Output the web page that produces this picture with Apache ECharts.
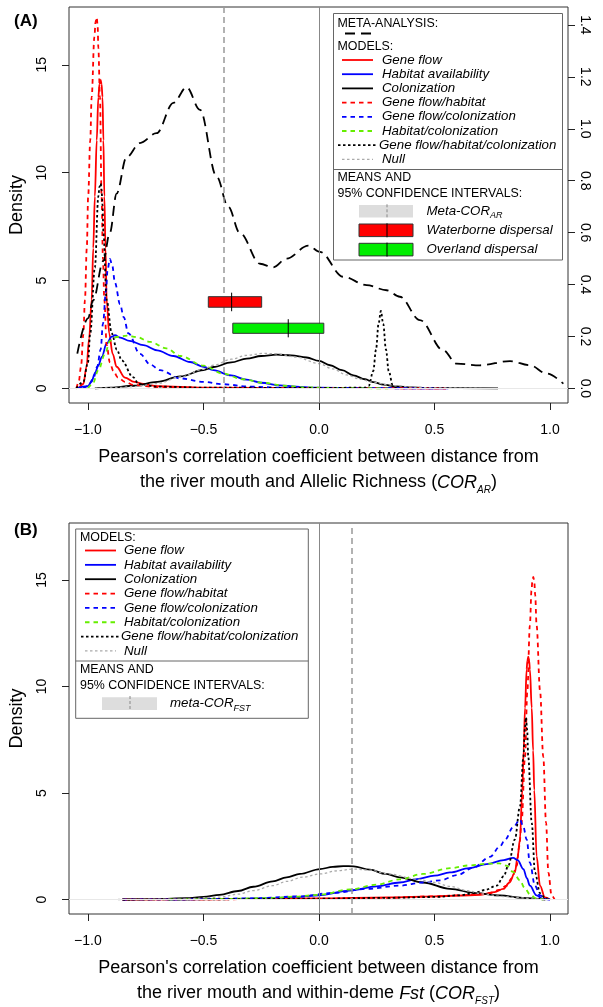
<!DOCTYPE html>
<html>
<head>
<meta charset="utf-8">
<script src="https://cdn.jsdelivr.net/npm/echarts@6.0.0/dist/echarts.min.js"></script>
<style>
html, body { margin: 0; padding: 0; background: #fff; }
#chart { width: 603px; height: 1007px; }
</style>
</head>
<body>
<div id="chart"></div>
<script>
const FONT = '"Liberation Sans", Arial, Helvetica, sans-serif';

// 刻度
const xTicks = [-1, -0.5, 0, 0.5, 1];
const yTicks = [0, 5, 10, 15];
const metaTicks = [0, 0.2, 0.4, 0.6, 0.8, 1.0, 1.2, 1.4];

const modelNames = ['Gene flow', 'Habitat availability', 'Colonization', 'Gene flow/habitat',
	'Gene flow/colonization', 'Habitat/colonization', 'Gene flow/habitat/colonization', 'Null'];
const ciNamesA = ['Meta-COR', 'Waterborne dispersal', 'Overland dispersal'];

// ---- panel A : density curves [x, density]
const aGeneFlow = [[-1.04,0],[-1.02,0.2],[-1.006,1.0],[-0.995,2.3],[-0.984,4.1],[-0.977,6.5],[-0.97,8.9],[-0.962,11.5],[-0.955,13.5],[-0.95,14.1],[-0.945,14.3],[-0.941,14.1],[-0.937,13.5],[-0.933,11.5],[-0.929,8.9],[-0.924,6.5],[-0.919,4.1],[-0.908,2.55],[-0.893,1.6],[-0.876,1.0],[-0.84,0.5],[-0.8,0.3],[-0.76,0.2],[-0.7,0.1],[-0.5,0.03],[0,0.01],[0.55,0]];
const aHabitat = [[-1.05,0],[-1.0,0.1],[-0.985,0.3],[-0.97,0.69],[-0.955,1.05],[-0.94,1.46],[-0.919,2.08],[-0.897,2.4],[-0.883,2.46],[-0.86,2.35],[-0.82,2.2],[-0.76,2.0],[-0.7,1.76],[-0.63,1.5],[-0.558,1.22],[-0.5,1.0],[-0.457,0.84],[-0.38,0.6],[-0.313,0.4],[-0.25,0.26],[-0.169,0.14],[-0.1,0.08],[-0.02,0.03],[0.2,0.01],[0.56,0]];
const aColonization = [[-0.97,0],[-0.9,0.03],[-0.8,0.12],[-0.7,0.3],[-0.6,0.55],[-0.5,0.85],[-0.457,0.99],[-0.38,1.2],[-0.313,1.38],[-0.25,1.5],[-0.183,1.56],[-0.12,1.53],[-0.053,1.43],[0.0,1.27],[0.048,1.07],[0.1,0.84],[0.149,0.6],[0.2,0.42],[0.235,0.29],[0.28,0.17],[0.336,0.09],[0.4,0.04],[0.5,0.01],[0.775,0]];
const aGfHabitat = [[-1.05,0],[-1.04,0.3],[-1.03,1.0],[-1.02,2.5],[-1.013,4.1],[-1.005,6.5],[-0.999,8.9],[-0.99,11.5],[-0.984,13.5],[-0.972,16.3],[-0.967,17.0],[-0.962,17.2],[-0.958,16.8],[-0.955,15.8],[-0.948,13.5],[-0.941,8.9],[-0.935,6.0],[-0.929,4.1],[-0.919,2.0],[-0.905,1.2],[-0.89,0.8],[-0.87,0.5],[-0.84,0.3],[-0.8,0.15],[-0.7,0.06],[-0.5,0.02],[0,0.01],[0.55,0]];
const aGfColonization = [[-1.02,0],[-1.0,0.1],[-0.977,0.45],[-0.96,1.0],[-0.945,1.8],[-0.935,3.0],[-0.922,4.5],[-0.915,5.5],[-0.905,6.0],[-0.895,5.7],[-0.883,4.9],[-0.861,3.9],[-0.845,3.3],[-0.825,2.55],[-0.775,1.6],[-0.73,1.1],[-0.688,0.84],[-0.6,0.46],[-0.5,0.3],[-0.415,0.19],[-0.3,0.08],[-0.17,0.03],[0,0.01],[0.5,0]];
const aHabColonization = [[-1.0,0],[-0.98,0.2],[-0.955,0.84],[-0.926,1.6],[-0.905,2.2],[-0.876,2.38],[-0.83,2.44],[-0.79,2.38],[-0.73,2.15],[-0.66,1.85],[-0.6,1.5],[-0.5,1.05],[-0.414,0.68],[-0.33,0.42],[-0.241,0.26],[-0.15,0.12],[-0.05,0.04],[0.1,0.01],[0.3,0]];
const aGfHabCol = [[-1.05,0],[-1.02,0.3],[-1.0,1.2],[-0.99,2.55],[-0.97,5.6],[-0.955,8.9],[-0.95,9.35],[-0.945,9.5],[-0.941,9.2],[-0.937,8.5],[-0.933,7.2],[-0.919,4.1],[-0.897,2.55],[-0.875,1.8],[-0.854,1.3],[-0.805,0.52],[-0.78,0.2],[-0.7,0.08],[-0.5,0.03],[0,0.02],[0.2,0.03],[0.215,0.1],[0.235,0.8],[0.247,1.8],[0.258,3.0],[0.268,3.59],[0.278,3.0],[0.29,1.8],[0.302,0.8],[0.32,0.1],[0.34,0]];
const aNull = [[-0.97,0],[-0.9,0.02],[-0.8,0.08],[-0.7,0.22],[-0.6,0.53],[-0.5,0.88],[-0.457,1.07],[-0.38,1.35],[-0.313,1.53],[-0.24,1.62],[-0.18,1.6],[-0.1,1.45],[0.0,1.15],[0.06,0.9],[0.12,0.62],[0.18,0.42],[0.235,0.28],[0.3,0.16],[0.336,0.12],[0.4,0.06],[0.5,0.02],[0.71,0]];
// meta-analysis (right axis)
const aMeta = [[-1.046,0.134],[-1.0,0.27],[-0.977,0.34],[-0.934,0.49],[-0.905,0.6],[-0.876,0.75],[-0.833,0.89],[-0.775,0.945],[-0.703,0.983],[-0.63,1.1],[-0.573,1.16],[-0.515,1.073],[-0.443,0.816],[-0.393,0.70],[-0.342,0.598],[-0.255,0.48],[-0.198,0.466],[-0.14,0.50],[-0.046,0.55],[0.004,0.526],[0.105,0.43],[0.206,0.398],[0.293,0.378],[0.35,0.353],[0.437,0.263],[0.538,0.147],[0.596,0.095],[0.697,0.089],[0.827,0.105],[0.913,0.089],[0.986,0.057],[1.058,0.018]];
const aMetaMean = -0.408;
// 置信区间 [low, mean, high, densLow, densHigh]
const aWaterborne = [-0.479, -0.378, -0.248, 3.76, 4.25];
const aOverland = [-0.373, -0.133, 0.021, 2.55, 3.02];

// ---- panel B
const bGeneFlow = [[-0.85,0],[-0.5,0.01],[0,0.05],[0.3,0.1],[0.5,0.15],[0.6,0.18],[0.7,0.22],[0.76,0.35],[0.798,0.5],[0.825,0.8],[0.848,1.27],[0.86,2.0],[0.87,2.82],[0.88,5.14],[0.886,7.0],[0.892,9.0],[0.899,10.8],[0.902,11.2],[0.906,11.41],[0.91,11.2],[0.913,10.8],[0.921,9.0],[0.927,7.0],[0.932,5.14],[0.942,2.04],[0.957,0.65],[0.978,0.1],[1.0,0]];
const bHabitat = [[-0.65,0],[-0.4,0.02],[-0.21,0.06],[-0.1,0.12],[0.0,0.2],[0.134,0.42],[0.25,0.62],[0.35,0.8],[0.423,0.96],[0.5,1.12],[0.567,1.27],[0.65,1.47],[0.726,1.66],[0.8,1.85],[0.841,1.96],[0.86,1.85],[0.885,1.43],[0.9,1.0],[0.913,0.65],[0.942,0.19],[0.97,0.03],[1.0,0]];
const bColonization = [[-0.85,0],[-0.7,0.02],[-0.575,0.06],[-0.5,0.12],[-0.43,0.22],[-0.35,0.4],[-0.284,0.6],[-0.2,0.85],[-0.14,1.04],[-0.082,1.2],[0.004,1.43],[0.06,1.53],[0.105,1.57],[0.15,1.56],[0.22,1.4],[0.29,1.2],[0.35,1.04],[0.45,0.8],[0.567,0.5],[0.68,0.3],[0.784,0.19],[0.88,0.08],[0.98,0]];
const bGfHabitat = [[-0.85,0],[-0.5,0.01],[0,0.03],[0.3,0.08],[0.5,0.15],[0.6,0.2],[0.7,0.25],[0.74,0.3],[0.78,0.45],[0.812,0.65],[0.835,1.0],[0.856,1.58],[0.867,2.5],[0.877,3.6],[0.892,6.7],[0.902,9.8],[0.913,12.88],[0.92,14.5],[0.924,15.0],[0.928,15.15],[0.932,14.95],[0.936,14.3],[0.942,12.88],[0.957,9.8],[0.971,6.7],[0.983,3.6],[0.993,1.27],[1.007,0.19],[1.02,0]];
const bGfColonization = [[-0.85,0],[-0.6,0.01],[-0.3,0.05],[-0.082,0.15],[0.062,0.31],[0.206,0.5],[0.35,0.65],[0.45,0.8],[0.524,0.9],[0.6,1.15],[0.668,1.5],[0.74,2.0],[0.784,2.5],[0.805,2.8],[0.841,3.4],[0.87,3.75],[0.885,3.4],[0.899,2.82],[0.913,1.73],[0.935,0.65],[0.957,0.19],[0.98,0.03],[1.0,0]];
const bHabColonization = [[-0.65,0],[-0.4,0.03],[-0.21,0.07],[-0.1,0.14],[0.0,0.22],[0.134,0.47],[0.25,0.7],[0.35,0.95],[0.45,1.2],[0.567,1.47],[0.65,1.6],[0.726,1.68],[0.78,1.7],[0.812,1.59],[0.84,1.3],[0.87,0.9],[0.89,0.55],[0.913,0.25],[0.94,0.05],[0.97,0]];
const bGfHabCol = [[-0.85,0],[-0.5,0.01],[0,0.04],[0.3,0.08],[0.5,0.12],[0.61,0.2],[0.67,0.3],[0.72,0.45],[0.769,0.65],[0.8,1.1],[0.82,1.6],[0.848,2.82],[0.87,4.37],[0.885,6.69],[0.891,8.0],[0.896,8.55],[0.901,8.0],[0.906,6.69],[0.921,3.6],[0.935,1.27],[0.957,0.3],[0.98,0.05],[1.0,0]];
const bNull = [[-0.87,0],[-0.6,0.02],[-0.43,0.11],[-0.35,0.25],[-0.284,0.42],[-0.2,0.65],[-0.14,0.85],[-0.07,1.05],[0.004,1.2],[0.08,1.35],[0.15,1.43],[0.22,1.38],[0.3,1.2],[0.42,0.96],[0.5,0.8],[0.567,0.62],[0.64,0.42],[0.71,0.26],[0.8,0.14],[0.856,0.1],[0.93,0.03],[1.0,0]];
const bMetaMean = 0.136;

// 线型
const modelStyles = [
	{ color: '#ff0000', type: 'solid' },
	{ color: '#0000ff', type: 'solid' },
	{ color: '#000000', type: 'solid' },
	{ color: '#ff0000', type: [4.5, 4] },
	{ color: '#0000ff', type: [4.5, 4] },
	{ color: '#66ee00', type: [4.5, 4] },
	{ color: '#000000', type: [2.5, 2.5] },
	{ color: '#aaaaaa', type: [2.5, 2.5], width: 1.3 }
];
const metaStyle = { color: '#000', width: 1.8, type: [10, 6] };

function fmtX(v) {
	return (v < 0 ? '\u2212' : '') + Math.abs(v).toFixed(1);
}

function modelSeries(data, i, xi, yi) {
	const s = modelStyles[i];
	return {
		type: 'line', xAxisIndex: xi, yAxisIndex: yi, data: data,
		showSymbol: false, smooth: 0.35, smoothMonotone: 'x',
		silent: true, animation: false, z: 3,
		lineStyle: { color: s.color, width: s.width || 1.8, type: s.type }
	};
}

function refLines(mean) {
	return {
		symbol: ['none', 'none'], silent: true, animation: false, label: { show: false },
		data: [
			{ yAxis: 0, lineStyle: { color: '#e8e8e8', width: 1, type: 'solid' } },
			{ xAxis: 0, lineStyle: { color: '#888', width: 1, type: 'solid' } },
			{ xAxis: mean, lineStyle: { color: '#999', width: 1.5, type: [6, 4] } }
		]
	};
}

function xAxisFor(gi, nameText) {
	return {
		gridIndex: gi, type: 'value', min: -1.082, max: 1.078, position: 'bottom',
		axisLine: { show: false, onZero: false },
		axisTick: { show: true, customValues: xTicks, length: 7, lineStyle: { color: '#222' } },
		axisLabel: { customValues: xTicks, formatter: fmtX, fontSize: 14, color: '#000', margin: 20, fontFamily: FONT },
		splitLine: { show: false },
		name: nameText, nameLocation: 'middle', nameGap: 42,
		nameTextStyle: {
			fontSize: 18, color: '#000', fontFamily: FONT, lineHeight: 25,
			rich: {
				i: { fontSize: 18, fontStyle: 'italic', fontFamily: FONT, color: '#000', lineHeight: 25 },
				s: { fontSize: 10, fontStyle: 'italic', fontFamily: FONT, color: '#000', verticalAlign: 'bottom', lineHeight: 25 }
			}
		}
	};
}

function yAxisFor(gi) {
	return {
		gridIndex: gi, type: 'value', min: -0.68, max: 17.68, position: 'left',
		axisLine: { show: false, onZero: false },
		axisTick: { show: true, customValues: yTicks, length: 7, lineStyle: { color: '#222' } },
		axisLabel: { customValues: yTicks, rotate: 90, fontSize: 14, color: '#000', margin: 20, fontFamily: FONT },
		splitLine: { show: false },
		name: 'Density', nameLocation: 'middle', nameGap: 43, nameRotate: 90,
		nameTextStyle: { fontSize: 18, color: '#000', fontFamily: FONT }
	};
}

// ---- 图例（手工绘制）
function gText(x, y, text, italic, size) {
	return {
		type: 'text', x: x, y: y, z: 100, silent: true,
		style: {
			text: text, fill: '#000', fontFamily: FONT, fontSize: size || 12.4,
			fontStyle: italic ? 'italic' : 'normal', verticalAlign: 'middle', align: 'left'
		}
	};
}
function gSubText(x, y, main, sub) {
	return {
		type: 'text', x: x, y: y, z: 100, silent: true,
		style: {
			text: '{m|' + main + '}{s|' + sub + '}', fill: '#000', verticalAlign: 'middle', align: 'left',
			rich: {
				m: { fontFamily: FONT, fontSize: 13.3, fontStyle: 'italic', lineHeight: 18 },
				s: { fontFamily: FONT, fontSize: 9, fontStyle: 'italic', lineHeight: 18, verticalAlign: 'bottom' }
			}
		}
	};
}
function gLine(x1, y1, x2, y2, color, width, dash) {
	return {
		type: 'line', z: 100, silent: true,
		shape: { x1: x1, y1: y1, x2: x2, y2: y2 },
		style: { stroke: color, lineWidth: width, lineDash: dash || null }
	};
}
function gRect(x, y, w, h, fill, stroke) {
	return {
		type: 'rect', z: 99, silent: true,
		shape: { x: x, y: y, width: w, height: h },
		style: { fill: fill, stroke: stroke || null, lineWidth: stroke ? 1 : 0 }
	};
}

function modelRows(els, segX1, segX2, textX, y0, step) {
	modelNames.forEach((n, i) => {
		const s = modelStyles[i];
		const y = y0 + step * i;
		const dash = s.type === 'solid' ? null : s.type;
		const wide = i === 6 ? 4 : 0;
		els.push(gLine(segX1 - wide, y, segX2 + wide, y, s.color, s.width || 1.8, dash));
		els.push(gText(textX - (i === 6 ? 3 : 0), y, n, true, 13.3));
	});
}

function legendA() {
	const els = [];
	els.push(gRect(333.5, 13.5, 229, 246.5, '#fff', '#666'));
	els.push(gLine(333.5, 169.5, 562.5, 169.5, '#666', 1));
	els.push(gText(337.5, 23.5, 'META-ANALYSIS:'));
	els.push(gLine(345, 33.5, 373, 33.5, metaStyle.color, metaStyle.width, metaStyle.type));
	els.push(gText(337.5, 47, 'MODELS:'));
	modelRows(els, 342, 373, 382, 60, 14.2);
	els.push(gText(337.5, 178, 'MEANS AND'));
	els.push(gText(337.5, 193.5, '95% CONFIDENCE INTERVALS:'));
	const fills = ['#dddddd', '#ff0000', '#00ee00'];
	const ys = [211.3, 230.3, 249.6];
	ys.forEach((y, i) => {
		els.push(gRect(359, y - 6.3, 54, 12.6, fills[i], i ? '#333' : null));
		els.push(gLine(387, y - 7, 387, y + 7, i ? '#000' : '#888', 1, i ? null : [3, 2]));
		if (i === 0) els.push(gSubText(426.5, y, ciNamesA[0], 'AR'));
		else els.push(gText(426.5, y, ciNamesA[i], true, 13.3));
	});
	els.push(gText(14, 21, '(A)', false, 17));
	els[els.length - 1].style.fontWeight = 'bold';
	return els;
}

function legendB() {
	const els = [];
	els.push(gRect(75.7, 529, 232.6, 189.3, '#fff', '#666'));
	els.push(gLine(75.7, 661, 308.3, 661, '#666', 1));
	els.push(gText(80, 537.5, 'MODELS:'));
	modelRows(els, 85, 116, 124, 550.5, 14.35);
	els.push(gText(80, 670, 'MEANS AND'));
	els.push(gText(80, 685.5, '95% CONFIDENCE INTERVALS:'));
	els.push(gRect(102, 697.3, 55, 12.7, '#dddddd', null));
	els.push(gLine(130, 696, 130, 711, '#888', 1, [3, 2]));
	els.push(gSubText(170, 703.5, 'meta-COR', 'FST'));
	els.push(gText(14, 530, '(B)', false, 17));
	els[els.length - 1].style.fontWeight = 'bold';
	return els;
}

function ciRender(params, api) {
	const p0 = api.coord([api.value(0), api.value(4)]);
	const p1 = api.coord([api.value(2), api.value(3)]);
	const pm = api.coord([api.value(1), api.value(3)]);
	const color = params.dataIndex === 0 ? '#ff0000' : '#00ee00';
	return {
		type: 'group',
		children: [
			{ type: 'rect', shape: { x: p0[0], y: p0[1], width: p1[0] - p0[0], height: p1[1] - p0[1] },
				style: { fill: color, stroke: '#333', lineWidth: 1 } },
			{ type: 'line', shape: { x1: pm[0], y1: p0[1] - 4, x2: pm[0], y2: p1[1] + 4 },
				style: { stroke: '#000', lineWidth: 1 } }
		]
	};
}

const aSets = [aGeneFlow, aHabitat, aColonization, aGfHabitat, aGfColonization, aHabColonization, aGfHabCol, aNull];
const bSets = [bGeneFlow, bHabitat, bColonization, bGfHabitat, bGfColonization, bHabColonization, bGfHabCol, bNull];

const series = [];
aSets.forEach((d, i) => series.push(modelSeries(d, i, 0, 0)));
series[0].markLine = refLines(aMetaMean);
series.push({
	type: 'line', xAxisIndex: 0, yAxisIndex: 1, data: aMeta, showSymbol: false,
	smooth: 0.35, smoothMonotone: 'x', silent: true, animation: false, z: 4,
	lineStyle: { color: metaStyle.color, width: metaStyle.width, type: metaStyle.type }
});
series.push({
	type: 'custom', xAxisIndex: 0, yAxisIndex: 0, silent: true, animation: false, z: 5,
	data: [aWaterborne, aOverland],
	dimensions: ['low', 'mean', 'high', 'yl', 'yh'],
	encode: { x: [0, 1, 2], y: [3, 4] },
	renderItem: ciRender
});
const bStart = series.length;
bSets.forEach((d, i) => series.push(modelSeries(d, i, 1, 2)));
series[bStart].markLine = refLines(bMetaMean);

const option = {
	backgroundColor: '#fff',
	animation: false,
	grid: [
		{ left: 69, top: 7, width: 499, height: 396, show: true, borderColor: '#333', borderWidth: 1, backgroundColor: 'transparent' },
		{ left: 69, top: 523, width: 499, height: 396, show: true, borderColor: '#333', borderWidth: 1, backgroundColor: 'transparent' }
	],
	xAxis: [
		xAxisFor(0, "Pearson's correlation coefficient between distance from\nthe river mouth and Allelic Richness ({i|COR}{s|AR})"),
		xAxisFor(1, "Pearson's correlation coefficient between distance from\nthe river mouth and within-deme {i|Fst} ({i|COR}{s|FST})")
	],
	yAxis: [
		yAxisFor(0),
		{
			gridIndex: 0, type: 'value', min: -0.0563, max: 1.469, position: 'right',
			axisLine: { show: false, onZero: false },
			axisTick: { show: true, customValues: metaTicks, length: 7, lineStyle: { color: '#222' } },
			axisLabel: { customValues: metaTicks, rotate: -90, formatter: v => v.toFixed(1), fontSize: 14, color: '#000', margin: 10, fontFamily: FONT },
			splitLine: { show: false }
		},
		yAxisFor(1)
	],
	series: series,
	graphic: { elements: legendA().concat(legendB()) }
};

const chart = echarts.init(document.getElementById('chart'));
chart.setOption(option);
</script>
</body>
</html>
